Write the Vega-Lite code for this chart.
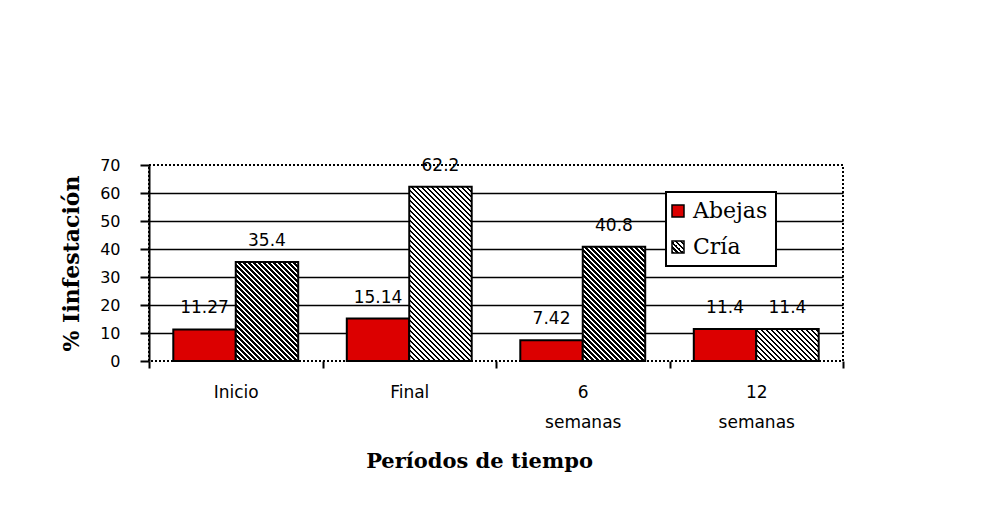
{
"$schema":"https://vega.github.io/schema/vega-lite/v6.json",
"width":694,"height":196,
"autosize":{"type":"none"},
"padding":{"left":149,"top":165,"right":163,"bottom":147},
"background":"white",
"config":{"view":{"stroke":"black","strokeWidth":2,"strokeDash":[2,2]},"font":"DejaVu Sans"},
"data":{"values":[
{"Periodo":"Inicio","Serie":"Abejas","valor":11.27},
{"Periodo":"Inicio","Serie":"Cría","valor":35.4},
{"Periodo":"Final","Serie":"Abejas","valor":15.14},
{"Periodo":"Final","Serie":"Cría","valor":62.2},
{"Periodo":"6 semanas","Serie":"Abejas","valor":7.42},
{"Periodo":"6 semanas","Serie":"Cría","valor":40.8},
{"Periodo":"12 semanas","Serie":"Abejas","valor":11.4},
{"Periodo":"12 semanas","Serie":"Cría","valor":11.4}
]},
"encoding":{
"x":{"field":"Periodo","type":"nominal","sort":["Inicio","Final","6 semanas","12 semanas"],"scale":{"paddingInner":0,"paddingOuter":0},
 "axis":{"title":"Períodos de tiempo","labelAngle":0,"domain":false,"ticks":true,"tickBand":"extent","tickSize":7,"tickWidth":2,"tickColor":"black","labelExpr":"split(datum.label, ' ')","labelLineHeight":30,"labelBaseline":"top","labelPadding":16,"labelFont":"DejaVu Sans","labelFontSize":17,"labelColor":"black","titleFont":"DejaVu Serif","titleFontWeight":"bold","titleFontSize":21,"titleColor":"black","titleX":330,"titleAlign":"center","titleY":106,"titleBaseline":"alphabetic"}},
"xOffset":{"field":"Serie","type":"nominal","scale":{"domain":["Abejas","Cría"],"paddingInner":0,"paddingOuter":0.389}},
"y":{"field":"valor","type":"quantitative","scale":{"domain":[0,70],"nice":false},
 "axis":{"title":"% Iinfestación","values":[0,10,20,30,40,50,60,70],"grid":true,"gridColor":"black","gridWidth":1.6,"gridOpacity":{"condition":{"test":"datum.value === 0 || datum.value === 70","value":0},"value":1},"domainColor":"black","domainWidth":2,"tickColor":"black","tickWidth":2,"tickSize":9,"labelFont":"DejaVu Sans","labelFontSize":16,"labelColor":"black","labelPadding":20,"titleFont":"DejaVu Serif","titleFontWeight":"bold","titleFontSize":22,"titleColor":"black","titleAngle":-90,"titleX":-71,"titleY":98,"titleAlign":"center","titleBaseline":"alphabetic"}}
},
"layer":[
{"transform":[{"filter":"datum.Serie === 'Abejas'"}],
 "mark":{"type":"bar","fill":"#dc0000","strokeWidth":2},
 "encoding":{"stroke":{"field":"Serie","type":"nominal","scale":{"domain":["Abejas","Cría"],"range":["black","black"]},
  "legend":{"orient":"none","legendX":517,"legendY":27,"title":null,"padding":8,"rowPadding":14,"symbolType":"square","symbolSize":144,"symbolStrokeWidth":1.5,"symbolOffset":-7,"labelFont":"DejaVu Serif","labelFontSize":22,"labelColor":"black","labelOffset":4,"labelBaseline":"middle","fillColor":"white","strokeColor":"black",
   "encoding":{"legend":{"strokeWidth":{"value":2}},
    "symbols":{"strokeWidth":{"value":1.5},"fill":{"condition":{"test":"datum.value === 'Cría'","value":{"gradient":"linear","x1":0,"y1":1,"x2":1,"y2":0,"stops":[{"offset":0.1,"color":"#000"},{"offset":0.1,"color":"#fff"},{"offset":0.2,"color":"#fff"},{"offset":0.2,"color":"#000"},{"offset":0.3,"color":"#000"},{"offset":0.3,"color":"#fff"},{"offset":0.4,"color":"#fff"},{"offset":0.4,"color":"#000"},{"offset":0.5,"color":"#000"},{"offset":0.5,"color":"#fff"},{"offset":0.6,"color":"#fff"},{"offset":0.6,"color":"#000"},{"offset":0.7,"color":"#000"},{"offset":0.7,"color":"#fff"},{"offset":0.8,"color":"#fff"},{"offset":0.8,"color":"#000"},{"offset":0.9,"color":"#000"},{"offset":0.9,"color":"#fff"}]}},"value":"#dc0000"}}}}}}},
{"transform":[{"filter":"datum.Serie === 'Cría' && datum.Periodo === 'Inicio'"}],
 "mark":{"type":"bar","stroke":"black","strokeWidth":2,"fill":{"gradient":"linear","x1":0,"y1":1,"x2":1.138,"y2":-0.805,"stops":[
{"offset":0.01,"color":"#000"},{"offset":0.01,"color":"#fff"},{"offset":0.02,"color":"#fff"},
{"offset":0.02,"color":"#000"},{"offset":0.03,"color":"#000"},{"offset":0.03,"color":"#fff"},{"offset":0.04,"color":"#fff"},
{"offset":0.04,"color":"#000"},{"offset":0.05,"color":"#000"},{"offset":0.05,"color":"#fff"},{"offset":0.06,"color":"#fff"},
{"offset":0.06,"color":"#000"},{"offset":0.07,"color":"#000"},{"offset":0.07,"color":"#fff"},{"offset":0.08,"color":"#fff"},
{"offset":0.08,"color":"#000"},{"offset":0.09,"color":"#000"},{"offset":0.09,"color":"#fff"},{"offset":0.1,"color":"#fff"},
{"offset":0.1,"color":"#000"},{"offset":0.11,"color":"#000"},{"offset":0.11,"color":"#fff"},{"offset":0.12,"color":"#fff"},
{"offset":0.12,"color":"#000"},{"offset":0.13,"color":"#000"},{"offset":0.13,"color":"#fff"},{"offset":0.14,"color":"#fff"},
{"offset":0.14,"color":"#000"},{"offset":0.15,"color":"#000"},{"offset":0.15,"color":"#fff"},{"offset":0.16,"color":"#fff"},
{"offset":0.16,"color":"#000"},{"offset":0.17,"color":"#000"},{"offset":0.17,"color":"#fff"},{"offset":0.18,"color":"#fff"},
{"offset":0.18,"color":"#000"},{"offset":0.19,"color":"#000"},{"offset":0.19,"color":"#fff"},{"offset":0.2,"color":"#fff"},
{"offset":0.2,"color":"#000"},{"offset":0.21,"color":"#000"},{"offset":0.21,"color":"#fff"},{"offset":0.22,"color":"#fff"},
{"offset":0.22,"color":"#000"},{"offset":0.23,"color":"#000"},{"offset":0.23,"color":"#fff"},{"offset":0.24,"color":"#fff"},
{"offset":0.24,"color":"#000"},{"offset":0.25,"color":"#000"},{"offset":0.25,"color":"#fff"},{"offset":0.26,"color":"#fff"},
{"offset":0.26,"color":"#000"},{"offset":0.27,"color":"#000"},{"offset":0.27,"color":"#fff"},{"offset":0.28,"color":"#fff"},
{"offset":0.28,"color":"#000"},{"offset":0.29,"color":"#000"},{"offset":0.29,"color":"#fff"},{"offset":0.3,"color":"#fff"},
{"offset":0.3,"color":"#000"},{"offset":0.31,"color":"#000"},{"offset":0.31,"color":"#fff"},{"offset":0.32,"color":"#fff"},
{"offset":0.32,"color":"#000"},{"offset":0.33,"color":"#000"},{"offset":0.33,"color":"#fff"},{"offset":0.34,"color":"#fff"},
{"offset":0.34,"color":"#000"},{"offset":0.35,"color":"#000"},{"offset":0.35,"color":"#fff"},{"offset":0.36,"color":"#fff"},
{"offset":0.36,"color":"#000"},{"offset":0.37,"color":"#000"},{"offset":0.37,"color":"#fff"},{"offset":0.38,"color":"#fff"},
{"offset":0.38,"color":"#000"},{"offset":0.39,"color":"#000"},{"offset":0.39,"color":"#fff"},{"offset":0.4,"color":"#fff"},
{"offset":0.4,"color":"#000"},{"offset":0.41,"color":"#000"},{"offset":0.41,"color":"#fff"},{"offset":0.42,"color":"#fff"},
{"offset":0.42,"color":"#000"},{"offset":0.43,"color":"#000"},{"offset":0.43,"color":"#fff"},{"offset":0.44,"color":"#fff"},
{"offset":0.44,"color":"#000"},{"offset":0.45,"color":"#000"},{"offset":0.45,"color":"#fff"},{"offset":0.46,"color":"#fff"},
{"offset":0.46,"color":"#000"},{"offset":0.47,"color":"#000"},{"offset":0.47,"color":"#fff"},{"offset":0.48,"color":"#fff"},
{"offset":0.48,"color":"#000"},{"offset":0.49,"color":"#000"},{"offset":0.49,"color":"#fff"},{"offset":0.5,"color":"#fff"},
{"offset":0.5,"color":"#000"},{"offset":0.51,"color":"#000"},{"offset":0.51,"color":"#fff"},{"offset":0.52,"color":"#fff"},
{"offset":0.52,"color":"#000"},{"offset":0.53,"color":"#000"},{"offset":0.53,"color":"#fff"},{"offset":0.54,"color":"#fff"},
{"offset":0.54,"color":"#000"},{"offset":0.55,"color":"#000"},{"offset":0.55,"color":"#fff"},{"offset":0.56,"color":"#fff"},
{"offset":0.56,"color":"#000"},{"offset":0.57,"color":"#000"},{"offset":0.57,"color":"#fff"},{"offset":0.58,"color":"#fff"},
{"offset":0.58,"color":"#000"},{"offset":0.59,"color":"#000"},{"offset":0.59,"color":"#fff"},{"offset":0.6,"color":"#fff"},
{"offset":0.6,"color":"#000"},{"offset":0.61,"color":"#000"},{"offset":0.61,"color":"#fff"},{"offset":0.62,"color":"#fff"},
{"offset":0.62,"color":"#000"},{"offset":0.63,"color":"#000"},{"offset":0.63,"color":"#fff"},{"offset":0.64,"color":"#fff"},
{"offset":0.64,"color":"#000"},{"offset":0.65,"color":"#000"},{"offset":0.65,"color":"#fff"},{"offset":0.66,"color":"#fff"},
{"offset":0.66,"color":"#000"}
]}}},
{"transform":[{"filter":"datum.Serie === 'Cría' && datum.Periodo === 'Final'"}],
 "mark":{"type":"bar","stroke":"black","strokeWidth":2,"fill":{"gradient":"linear","x1":0,"y1":1,"x2":0.456,"y2":-0.272,"stops":[
{"offset":0.01,"color":"#000"},{"offset":0.01,"color":"#fff"},{"offset":0.02,"color":"#fff"},
{"offset":0.02,"color":"#000"},{"offset":0.03,"color":"#000"},{"offset":0.03,"color":"#fff"},{"offset":0.04,"color":"#fff"},
{"offset":0.04,"color":"#000"},{"offset":0.05,"color":"#000"},{"offset":0.05,"color":"#fff"},{"offset":0.06,"color":"#fff"},
{"offset":0.06,"color":"#000"},{"offset":0.07,"color":"#000"},{"offset":0.07,"color":"#fff"},{"offset":0.08,"color":"#fff"},
{"offset":0.08,"color":"#000"},{"offset":0.09,"color":"#000"},{"offset":0.09,"color":"#fff"},{"offset":0.1,"color":"#fff"},
{"offset":0.1,"color":"#000"},{"offset":0.11,"color":"#000"},{"offset":0.11,"color":"#fff"},{"offset":0.12,"color":"#fff"},
{"offset":0.12,"color":"#000"},{"offset":0.13,"color":"#000"},{"offset":0.13,"color":"#fff"},{"offset":0.14,"color":"#fff"},
{"offset":0.14,"color":"#000"},{"offset":0.15,"color":"#000"},{"offset":0.15,"color":"#fff"},{"offset":0.16,"color":"#fff"},
{"offset":0.16,"color":"#000"},{"offset":0.17,"color":"#000"},{"offset":0.17,"color":"#fff"},{"offset":0.18,"color":"#fff"},
{"offset":0.18,"color":"#000"},{"offset":0.19,"color":"#000"},{"offset":0.19,"color":"#fff"},{"offset":0.2,"color":"#fff"},
{"offset":0.2,"color":"#000"},{"offset":0.21,"color":"#000"},{"offset":0.21,"color":"#fff"},{"offset":0.22,"color":"#fff"},
{"offset":0.22,"color":"#000"},{"offset":0.23,"color":"#000"},{"offset":0.23,"color":"#fff"},{"offset":0.24,"color":"#fff"},
{"offset":0.24,"color":"#000"},{"offset":0.25,"color":"#000"},{"offset":0.25,"color":"#fff"},{"offset":0.26,"color":"#fff"},
{"offset":0.26,"color":"#000"},{"offset":0.27,"color":"#000"},{"offset":0.27,"color":"#fff"},{"offset":0.28,"color":"#fff"},
{"offset":0.28,"color":"#000"},{"offset":0.29,"color":"#000"},{"offset":0.29,"color":"#fff"},{"offset":0.3,"color":"#fff"},
{"offset":0.3,"color":"#000"},{"offset":0.31,"color":"#000"},{"offset":0.31,"color":"#fff"},{"offset":0.32,"color":"#fff"},
{"offset":0.32,"color":"#000"},{"offset":0.33,"color":"#000"},{"offset":0.33,"color":"#fff"},{"offset":0.34,"color":"#fff"},
{"offset":0.34,"color":"#000"},{"offset":0.35,"color":"#000"},{"offset":0.35,"color":"#fff"},{"offset":0.36,"color":"#fff"},
{"offset":0.36,"color":"#000"},{"offset":0.37,"color":"#000"},{"offset":0.37,"color":"#fff"},{"offset":0.38,"color":"#fff"},
{"offset":0.38,"color":"#000"},{"offset":0.39,"color":"#000"},{"offset":0.39,"color":"#fff"},{"offset":0.4,"color":"#fff"},
{"offset":0.4,"color":"#000"},{"offset":0.41,"color":"#000"},{"offset":0.41,"color":"#fff"},{"offset":0.42,"color":"#fff"},
{"offset":0.42,"color":"#000"},{"offset":0.43,"color":"#000"},{"offset":0.43,"color":"#fff"},{"offset":0.44,"color":"#fff"},
{"offset":0.44,"color":"#000"},{"offset":0.45,"color":"#000"},{"offset":0.45,"color":"#fff"},{"offset":0.46,"color":"#fff"},
{"offset":0.46,"color":"#000"},{"offset":0.47,"color":"#000"},{"offset":0.47,"color":"#fff"},{"offset":0.48,"color":"#fff"},
{"offset":0.48,"color":"#000"},{"offset":0.49,"color":"#000"},{"offset":0.49,"color":"#fff"},{"offset":0.5,"color":"#fff"},
{"offset":0.5,"color":"#000"},{"offset":0.51,"color":"#000"},{"offset":0.51,"color":"#fff"},{"offset":0.52,"color":"#fff"},
{"offset":0.52,"color":"#000"},{"offset":0.53,"color":"#000"},{"offset":0.53,"color":"#fff"},{"offset":0.54,"color":"#fff"},
{"offset":0.54,"color":"#000"},{"offset":0.55,"color":"#000"},{"offset":0.55,"color":"#fff"},{"offset":0.56,"color":"#fff"},
{"offset":0.56,"color":"#000"},{"offset":0.57,"color":"#000"},{"offset":0.57,"color":"#fff"},{"offset":0.58,"color":"#fff"},
{"offset":0.58,"color":"#000"},{"offset":0.59,"color":"#000"},{"offset":0.59,"color":"#fff"},{"offset":0.6,"color":"#fff"},
{"offset":0.6,"color":"#000"},{"offset":0.61,"color":"#000"},{"offset":0.61,"color":"#fff"},{"offset":0.62,"color":"#fff"},
{"offset":0.62,"color":"#000"},{"offset":0.63,"color":"#000"},{"offset":0.63,"color":"#fff"},{"offset":0.64,"color":"#fff"},
{"offset":0.64,"color":"#000"},{"offset":0.65,"color":"#000"},{"offset":0.65,"color":"#fff"},{"offset":0.66,"color":"#fff"},
{"offset":0.66,"color":"#000"},{"offset":0.67,"color":"#000"},{"offset":0.67,"color":"#fff"},{"offset":0.68,"color":"#fff"},
{"offset":0.68,"color":"#000"},{"offset":0.69,"color":"#000"},{"offset":0.69,"color":"#fff"},{"offset":0.7,"color":"#fff"},
{"offset":0.7,"color":"#000"},{"offset":0.71,"color":"#000"},{"offset":0.71,"color":"#fff"},{"offset":0.72,"color":"#fff"},
{"offset":0.72,"color":"#000"},{"offset":0.73,"color":"#000"},{"offset":0.73,"color":"#fff"},{"offset":0.74,"color":"#fff"},
{"offset":0.74,"color":"#000"},{"offset":0.75,"color":"#000"},{"offset":0.75,"color":"#fff"},{"offset":0.76,"color":"#fff"},
{"offset":0.76,"color":"#000"},{"offset":0.77,"color":"#000"},{"offset":0.77,"color":"#fff"},{"offset":0.78,"color":"#fff"},
{"offset":0.78,"color":"#000"},{"offset":0.79,"color":"#000"},{"offset":0.79,"color":"#fff"},{"offset":0.8,"color":"#fff"},
{"offset":0.8,"color":"#000"},{"offset":0.81,"color":"#000"},{"offset":0.81,"color":"#fff"},{"offset":0.82,"color":"#fff"},
{"offset":0.82,"color":"#000"},{"offset":0.83,"color":"#000"},{"offset":0.83,"color":"#fff"},{"offset":0.84,"color":"#fff"},
{"offset":0.84,"color":"#000"},{"offset":0.85,"color":"#000"},{"offset":0.85,"color":"#fff"},{"offset":0.86,"color":"#fff"},
{"offset":0.86,"color":"#000"},{"offset":0.87,"color":"#000"},{"offset":0.87,"color":"#fff"},{"offset":0.88,"color":"#fff"},
{"offset":0.88,"color":"#000"},{"offset":0.89,"color":"#000"},{"offset":0.89,"color":"#fff"},{"offset":0.9,"color":"#fff"},
{"offset":0.9,"color":"#000"},{"offset":0.91,"color":"#000"},{"offset":0.91,"color":"#fff"},{"offset":0.92,"color":"#fff"},
{"offset":0.92,"color":"#000"},{"offset":0.93,"color":"#000"},{"offset":0.93,"color":"#fff"},{"offset":0.94,"color":"#fff"},
{"offset":0.94,"color":"#000"},{"offset":0.95,"color":"#000"},{"offset":0.95,"color":"#fff"},{"offset":0.96,"color":"#fff"},
{"offset":0.96,"color":"#000"}
]}}},
{"transform":[{"filter":"datum.Serie === 'Cría' && datum.Periodo === '6 semanas'"}],
 "mark":{"type":"bar","stroke":"black","strokeWidth":2,"fill":{"gradient":"linear","x1":0,"y1":1,"x2":0.922,"y2":-0.685,"stops":[
{"offset":0.01,"color":"#000"},{"offset":0.01,"color":"#fff"},{"offset":0.02,"color":"#fff"},
{"offset":0.02,"color":"#000"},{"offset":0.03,"color":"#000"},{"offset":0.03,"color":"#fff"},{"offset":0.04,"color":"#fff"},
{"offset":0.04,"color":"#000"},{"offset":0.05,"color":"#000"},{"offset":0.05,"color":"#fff"},{"offset":0.06,"color":"#fff"},
{"offset":0.06,"color":"#000"},{"offset":0.07,"color":"#000"},{"offset":0.07,"color":"#fff"},{"offset":0.08,"color":"#fff"},
{"offset":0.08,"color":"#000"},{"offset":0.09,"color":"#000"},{"offset":0.09,"color":"#fff"},{"offset":0.1,"color":"#fff"},
{"offset":0.1,"color":"#000"},{"offset":0.11,"color":"#000"},{"offset":0.11,"color":"#fff"},{"offset":0.12,"color":"#fff"},
{"offset":0.12,"color":"#000"},{"offset":0.13,"color":"#000"},{"offset":0.13,"color":"#fff"},{"offset":0.14,"color":"#fff"},
{"offset":0.14,"color":"#000"},{"offset":0.15,"color":"#000"},{"offset":0.15,"color":"#fff"},{"offset":0.16,"color":"#fff"},
{"offset":0.16,"color":"#000"},{"offset":0.17,"color":"#000"},{"offset":0.17,"color":"#fff"},{"offset":0.18,"color":"#fff"},
{"offset":0.18,"color":"#000"},{"offset":0.19,"color":"#000"},{"offset":0.19,"color":"#fff"},{"offset":0.2,"color":"#fff"},
{"offset":0.2,"color":"#000"},{"offset":0.21,"color":"#000"},{"offset":0.21,"color":"#fff"},{"offset":0.22,"color":"#fff"},
{"offset":0.22,"color":"#000"},{"offset":0.23,"color":"#000"},{"offset":0.23,"color":"#fff"},{"offset":0.24,"color":"#fff"},
{"offset":0.24,"color":"#000"},{"offset":0.25,"color":"#000"},{"offset":0.25,"color":"#fff"},{"offset":0.26,"color":"#fff"},
{"offset":0.26,"color":"#000"},{"offset":0.27,"color":"#000"},{"offset":0.27,"color":"#fff"},{"offset":0.28,"color":"#fff"},
{"offset":0.28,"color":"#000"},{"offset":0.29,"color":"#000"},{"offset":0.29,"color":"#fff"},{"offset":0.3,"color":"#fff"},
{"offset":0.3,"color":"#000"},{"offset":0.31,"color":"#000"},{"offset":0.31,"color":"#fff"},{"offset":0.32,"color":"#fff"},
{"offset":0.32,"color":"#000"},{"offset":0.33,"color":"#000"},{"offset":0.33,"color":"#fff"},{"offset":0.34,"color":"#fff"},
{"offset":0.34,"color":"#000"},{"offset":0.35,"color":"#000"},{"offset":0.35,"color":"#fff"},{"offset":0.36,"color":"#fff"},
{"offset":0.36,"color":"#000"},{"offset":0.37,"color":"#000"},{"offset":0.37,"color":"#fff"},{"offset":0.38,"color":"#fff"},
{"offset":0.38,"color":"#000"},{"offset":0.39,"color":"#000"},{"offset":0.39,"color":"#fff"},{"offset":0.4,"color":"#fff"},
{"offset":0.4,"color":"#000"},{"offset":0.41,"color":"#000"},{"offset":0.41,"color":"#fff"},{"offset":0.42,"color":"#fff"},
{"offset":0.42,"color":"#000"},{"offset":0.43,"color":"#000"},{"offset":0.43,"color":"#fff"},{"offset":0.44,"color":"#fff"},
{"offset":0.44,"color":"#000"},{"offset":0.45,"color":"#000"},{"offset":0.45,"color":"#fff"},{"offset":0.46,"color":"#fff"},
{"offset":0.46,"color":"#000"},{"offset":0.47,"color":"#000"},{"offset":0.47,"color":"#fff"},{"offset":0.48,"color":"#fff"},
{"offset":0.48,"color":"#000"},{"offset":0.49,"color":"#000"},{"offset":0.49,"color":"#fff"},{"offset":0.5,"color":"#fff"},
{"offset":0.5,"color":"#000"},{"offset":0.51,"color":"#000"},{"offset":0.51,"color":"#fff"},{"offset":0.52,"color":"#fff"},
{"offset":0.52,"color":"#000"},{"offset":0.53,"color":"#000"},{"offset":0.53,"color":"#fff"},{"offset":0.54,"color":"#fff"},
{"offset":0.54,"color":"#000"},{"offset":0.55,"color":"#000"},{"offset":0.55,"color":"#fff"},{"offset":0.56,"color":"#fff"},
{"offset":0.56,"color":"#000"},{"offset":0.57,"color":"#000"},{"offset":0.57,"color":"#fff"},{"offset":0.58,"color":"#fff"},
{"offset":0.58,"color":"#000"},{"offset":0.59,"color":"#000"},{"offset":0.59,"color":"#fff"},{"offset":0.6,"color":"#fff"},
{"offset":0.6,"color":"#000"},{"offset":0.61,"color":"#000"},{"offset":0.61,"color":"#fff"},{"offset":0.62,"color":"#fff"},
{"offset":0.62,"color":"#000"},{"offset":0.63,"color":"#000"},{"offset":0.63,"color":"#fff"},{"offset":0.64,"color":"#fff"},
{"offset":0.64,"color":"#000"},{"offset":0.65,"color":"#000"},{"offset":0.65,"color":"#fff"},{"offset":0.66,"color":"#fff"},
{"offset":0.66,"color":"#000"},{"offset":0.67,"color":"#000"},{"offset":0.67,"color":"#fff"},{"offset":0.68,"color":"#fff"},
{"offset":0.68,"color":"#000"},{"offset":0.69,"color":"#000"},{"offset":0.69,"color":"#fff"},{"offset":0.7,"color":"#fff"},
{"offset":0.7,"color":"#000"},{"offset":0.71,"color":"#000"},{"offset":0.71,"color":"#fff"},{"offset":0.72,"color":"#fff"},
{"offset":0.72,"color":"#000"}
]}}},
{"transform":[{"filter":"datum.Serie === 'Cría' && datum.Periodo === '12 semanas'"}],
 "mark":{"type":"bar","stroke":"black","strokeWidth":2,"fill":{"gradient":"linear","x1":0,"y1":1,"x2":3.174,"y2":-0.622,"stops":[
{"offset":0.01,"color":"#000"},{"offset":0.01,"color":"#fff"},{"offset":0.02,"color":"#fff"},
{"offset":0.02,"color":"#000"},{"offset":0.03,"color":"#000"},{"offset":0.03,"color":"#fff"},{"offset":0.04,"color":"#fff"},
{"offset":0.04,"color":"#000"},{"offset":0.05,"color":"#000"},{"offset":0.05,"color":"#fff"},{"offset":0.06,"color":"#fff"},
{"offset":0.06,"color":"#000"},{"offset":0.07,"color":"#000"},{"offset":0.07,"color":"#fff"},{"offset":0.08,"color":"#fff"},
{"offset":0.08,"color":"#000"},{"offset":0.09,"color":"#000"},{"offset":0.09,"color":"#fff"},{"offset":0.1,"color":"#fff"},
{"offset":0.1,"color":"#000"},{"offset":0.11,"color":"#000"},{"offset":0.11,"color":"#fff"},{"offset":0.12,"color":"#fff"},
{"offset":0.12,"color":"#000"},{"offset":0.13,"color":"#000"},{"offset":0.13,"color":"#fff"},{"offset":0.14,"color":"#fff"},
{"offset":0.14,"color":"#000"},{"offset":0.15,"color":"#000"},{"offset":0.15,"color":"#fff"},{"offset":0.16,"color":"#fff"},
{"offset":0.16,"color":"#000"},{"offset":0.17,"color":"#000"},{"offset":0.17,"color":"#fff"},{"offset":0.18,"color":"#fff"},
{"offset":0.18,"color":"#000"},{"offset":0.19,"color":"#000"},{"offset":0.19,"color":"#fff"},{"offset":0.2,"color":"#fff"},
{"offset":0.2,"color":"#000"},{"offset":0.21,"color":"#000"},{"offset":0.21,"color":"#fff"},{"offset":0.22,"color":"#fff"},
{"offset":0.22,"color":"#000"},{"offset":0.23,"color":"#000"},{"offset":0.23,"color":"#fff"},{"offset":0.24,"color":"#fff"},
{"offset":0.24,"color":"#000"},{"offset":0.25,"color":"#000"},{"offset":0.25,"color":"#fff"},{"offset":0.26,"color":"#fff"},
{"offset":0.26,"color":"#000"},{"offset":0.27,"color":"#000"},{"offset":0.27,"color":"#fff"},{"offset":0.28,"color":"#fff"},
{"offset":0.28,"color":"#000"},{"offset":0.29,"color":"#000"},{"offset":0.29,"color":"#fff"},{"offset":0.3,"color":"#fff"},
{"offset":0.3,"color":"#000"},{"offset":0.31,"color":"#000"},{"offset":0.31,"color":"#fff"},{"offset":0.32,"color":"#fff"},
{"offset":0.32,"color":"#000"},{"offset":0.33,"color":"#000"},{"offset":0.33,"color":"#fff"},{"offset":0.34,"color":"#fff"},
{"offset":0.34,"color":"#000"},{"offset":0.35,"color":"#000"},{"offset":0.35,"color":"#fff"},{"offset":0.36,"color":"#fff"},
{"offset":0.36,"color":"#000"},{"offset":0.37,"color":"#000"},{"offset":0.37,"color":"#fff"},{"offset":0.38,"color":"#fff"},
{"offset":0.38,"color":"#000"},{"offset":0.39,"color":"#000"},{"offset":0.39,"color":"#fff"},{"offset":0.4,"color":"#fff"},
{"offset":0.4,"color":"#000"}
]}}},
{"mark":{"type":"text","baseline":"alphabetic","align":"center","dy":-16,"fontSize":17,"font":"DejaVu Sans","color":"black"},
 "encoding":{"text":{"field":"valor","type":"nominal"}}}
]
}
